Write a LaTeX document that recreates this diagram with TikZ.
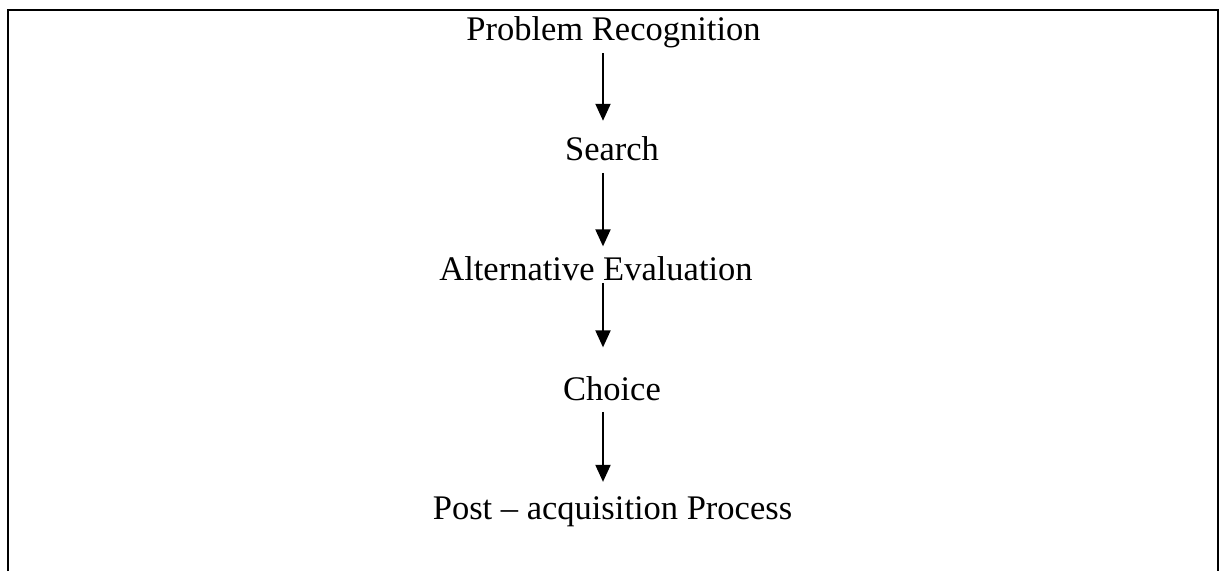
\documentclass[tikz,border=0pt]{standalone}
\usepackage{fontspec}
\setmainfont{Liberation Serif}
\usepackage{tikz}
\usetikzlibrary{arrows.meta}

\begin{document}
\begin{tikzpicture}[x=1pt,y=-1pt,>={Triangle[length=17pt,width=15pt]}]
  \tikzstyle{stage}=[inner sep=0pt,anchor=base,font=\fontsize{34.5}{40}\selectfont]
  \tikzstyle{flow}=[->,line width=2pt]
  \useasboundingbox (0,0) rectangle (1219,571);
  % open frame
  \draw[line width=2pt] (8,571) -- (8,10) -- (1218,10) -- (1218,571);
  \node [stage] (probrec) at (613.5,40) {Problem Recognition};
  \node [stage] (search) at (612,160.7) {Search};
  \node [stage] (alteval) at (596,280) {Alternative Evaluation};
  \node [stage] (choice) at (612,400) {Choice};
  \node [stage] (postacq) at (612.5,519.3) {Post – acquisition Process};
  \coordinate (spine) at (603,0);
  \draw [flow,shorten <=5.6pt,shorten >=15.8pt] (probrec.south -| spine) -- (search.north -| spine);
  \draw [flow,shorten <=11.6pt,shorten >=9.5pt] (search.south -| spine) -- (alteval.north -| spine);
  \draw [flow,shorten <=2.3pt,shorten >=28.5pt] (alteval.south -| spine) -- (choice.north -| spine);
  \draw [flow,shorten <=11.3pt,shorten >=14.4pt] (choice.south -| spine) -- (postacq.north -| spine);
\end{tikzpicture}
\end{document}
